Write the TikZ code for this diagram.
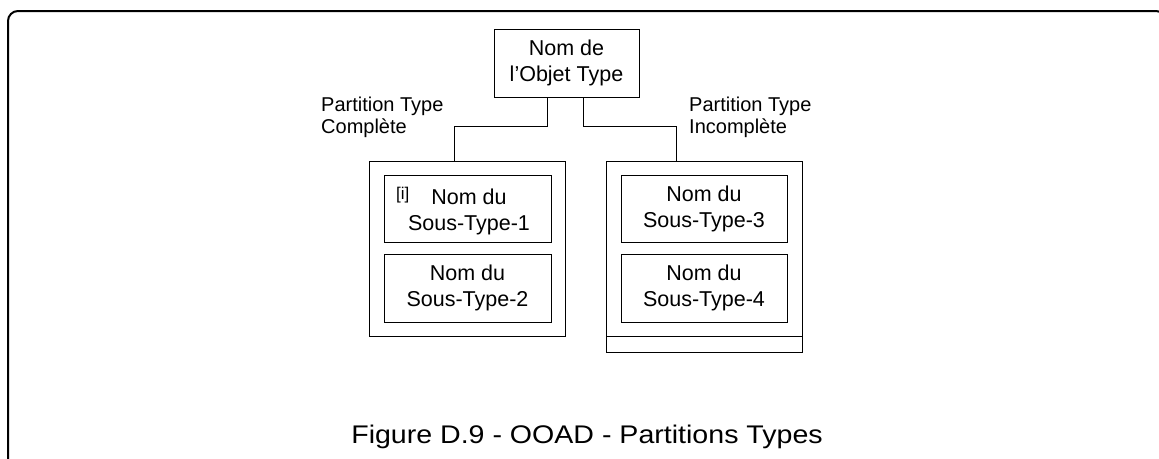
\documentclass[tikz,border=0pt]{standalone}
\usepackage{fontspec}
\setmainfont{Liberation Sans}
\newfontfamily\capfont[FakeStretch=1.12]{Liberation Sans}
\begin{document}
\begin{tikzpicture}[x=1pt,y=-1pt,
  boxtext/.style={font=\fontsize{21.5}{26}\selectfont,align=center},
  box/.style={draw,line width=1pt,inner sep=0pt,boxtext},
  part/.style={draw,line width=1pt,inner sep=0pt},
  lbl/.style={font=\fontsize{20}{22}\selectfont,align=left,inner sep=0pt,anchor=north west},
  conn/.style={line width=1pt}]
\path[use as bounding box] (0,0) rectangle (1159,458);
\clip (0,0) rectangle (1159,458);
\draw[line width=2pt,rounded corners=10pt] (8,480) -- (8,11) -- (1166,11) -- (1166,480);

% top object type
\node[box,minimum width=145pt,minimum height=68pt] (top) at (566.5,63) {Nom de\\l’Objet Type};

% partitions
\node[part,minimum width=196pt,minimum height=175pt] (Lout) at (467,248.5) {};
\node[part,minimum width=196pt,minimum height=175pt] (Rout) at (704,248.5) {};
\node[part,minimum width=196pt,minimum height=16pt] (Rfoot) at (704,344) {};

% sub-types
\node[part,minimum width=167pt,minimum height=67pt] (s1) at (467.5,208.5) {};
\node[boxtext,inner sep=0pt] (s1t) at (469,212) {Nom du\\Sous-Type-1};
\node[font=\fontsize{17}{19}\selectfont,inner sep=0pt,anchor=north west] (s1i) at (396,187) {[i]};
\node[box,minimum width=167pt,minimum height=68pt] (s2) at (467.5,288) {Nom du\\Sous-Type-2};
\node[box,minimum width=166pt,minimum height=67pt] (s3) at (704,208.5) {Nom du\\Sous-Type-3};
\node[box,minimum width=166pt,minimum height=68pt] (s4) at (704,288) {Nom du\\Sous-Type-4};

% labels
\node[lbl] (lc) at (321,96.5) {Partition Type\\Complète};
\node[lbl] (li) at (689,96.5) {Partition Type\\Incomplète};

% connectors
\coordinate (tl) at (547,0);
\coordinate (tr) at (583,0);
\coordinate (jl) at (454,126);
\coordinate (jr) at (676,126);
\draw[conn] (tl |- top.south) |- (jl) -- (jl |- Lout.north);
\draw[conn] (tr |- top.south) |- (jr) -- (jr |- Rout.north);

% caption
\node[font=\capfont\fontsize{25.5}{30}\selectfont,inner sep=0pt,anchor=base] (cap) at (587,443) {Figure D.9 - OOAD - Partitions Types};
\end{tikzpicture}
\end{document}
